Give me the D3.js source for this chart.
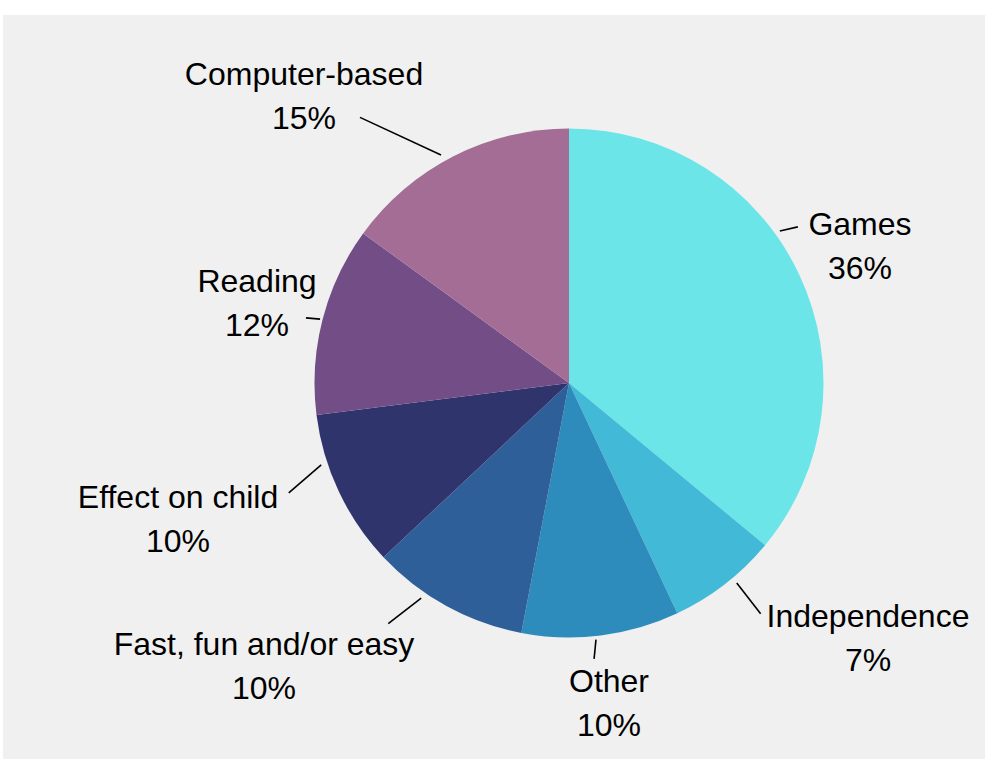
<!DOCTYPE html>
<html>
<head>
<meta charset="utf-8">
<script src="https://cdn.jsdelivr.net/npm/d3@7"></script>
<style>
  body { margin: 0; background: #ffffff; }
  svg { display: block; }
</style>
</head>
<body>
<div id="chart"></div>
<script>

// chart data
let categories = ["Games", "Independence", "Other", "Fast, fun and/or easy", "Effect on child", "Reading", "Computer-based"];
let shares = [36, 7, 10, 10, 10, 12, 15];
let sliceColors = ["#6be5e8", "#42b9d7", "#2e8cbc", "#2f5f98", "#30346c", "#724d86", "#a36d96"];

// label layout, offsets from pie centre (text centre + first baseline) and leader lines in polar form [deg, r, deg, r]
let labelOffsets = [[291, -148], [299, 244], [40, 309], [-305, 272], [-391, 125], [-312, -91], [-265, -298]];
let leaderLines = [[54.2, 260, 55.7, 277], [140, 261, 140.3, 300], [174, 258, 174.8, 277], [214.5, 261, 216.9, 301],
	[251.7, 261, 248.6, 301], [284.4, 257, 283.9, 271], [330.7, 261.5, 321.8, 338]];

let width = 985, height = 760;
let cx = 569, cy = 383, radius = 254.5;

let svg = d3.select("#chart")
	.append("svg")
	.attr("width", width)
	.attr("height", height);

// grey panel
svg.append("rect")
	.attr("x", 3)
	.attr("y", 15)
	.attr("width", width - 3)
	.attr("height", 744)
	.attr("fill", "#f0f0f0");

let data = categories.map(function (c, i) {
	return { name: c, value: shares[i], color: sliceColors[i] };
});

let pie = d3.pie()
	.sort(null)
	.value(function (d) { return d.value; });

let arc = d3.arc()
	.innerRadius(0)
	.outerRadius(radius);

let g = svg.append("g")
	.attr("transform", "translate(" + cx + "," + cy + ")");

g.selectAll(".slice")
	.data(pie(data))
	.enter()
	.append("path")
	.attr("class", "slice")
	.attr("d", arc)
	.attr("fill", function (d) { return d.data.color; });

// polar -> xy (angle clockwise from top)
function polar(a, r) {
	let rad = a * Math.PI / 180;
	return [r * Math.sin(rad), -r * Math.cos(rad)];
}

g.selectAll(".leader")
	.data(leaderLines)
	.enter()
	.append("line")
	.attr("class", "leader")
	.attr("x1", function (d) { return polar(d[0], d[1])[0]; })
	.attr("y1", function (d) { return polar(d[0], d[1])[1]; })
	.attr("x2", function (d) { return polar(d[2], d[3])[0]; })
	.attr("y2", function (d) { return polar(d[2], d[3])[1]; })
	.attr("stroke", "#000")
	.attr("stroke-width", 1.6);

let labels = g.selectAll(".label")
	.data(data)
	.enter()
	.append("text")
	.attr("class", "label")
	.attr("text-anchor", "middle")
	.style("font-family", "'Liberation Sans', Arial, sans-serif")
	.style("font-size", "32px")
	.attr("fill", "#000");

labels.append("tspan")
	.attr("x", function (d, i) { return labelOffsets[i][0]; })
	.attr("y", function (d, i) { return labelOffsets[i][1]; })
	.text(function (d) { return d.name; });

labels.append("tspan")
	.attr("x", function (d, i) { return labelOffsets[i][0]; })
	.attr("y", function (d, i) { return labelOffsets[i][1] + 44; })
	.text(function (d) { return d.value + "%"; });

</script>
</body>
</html>
